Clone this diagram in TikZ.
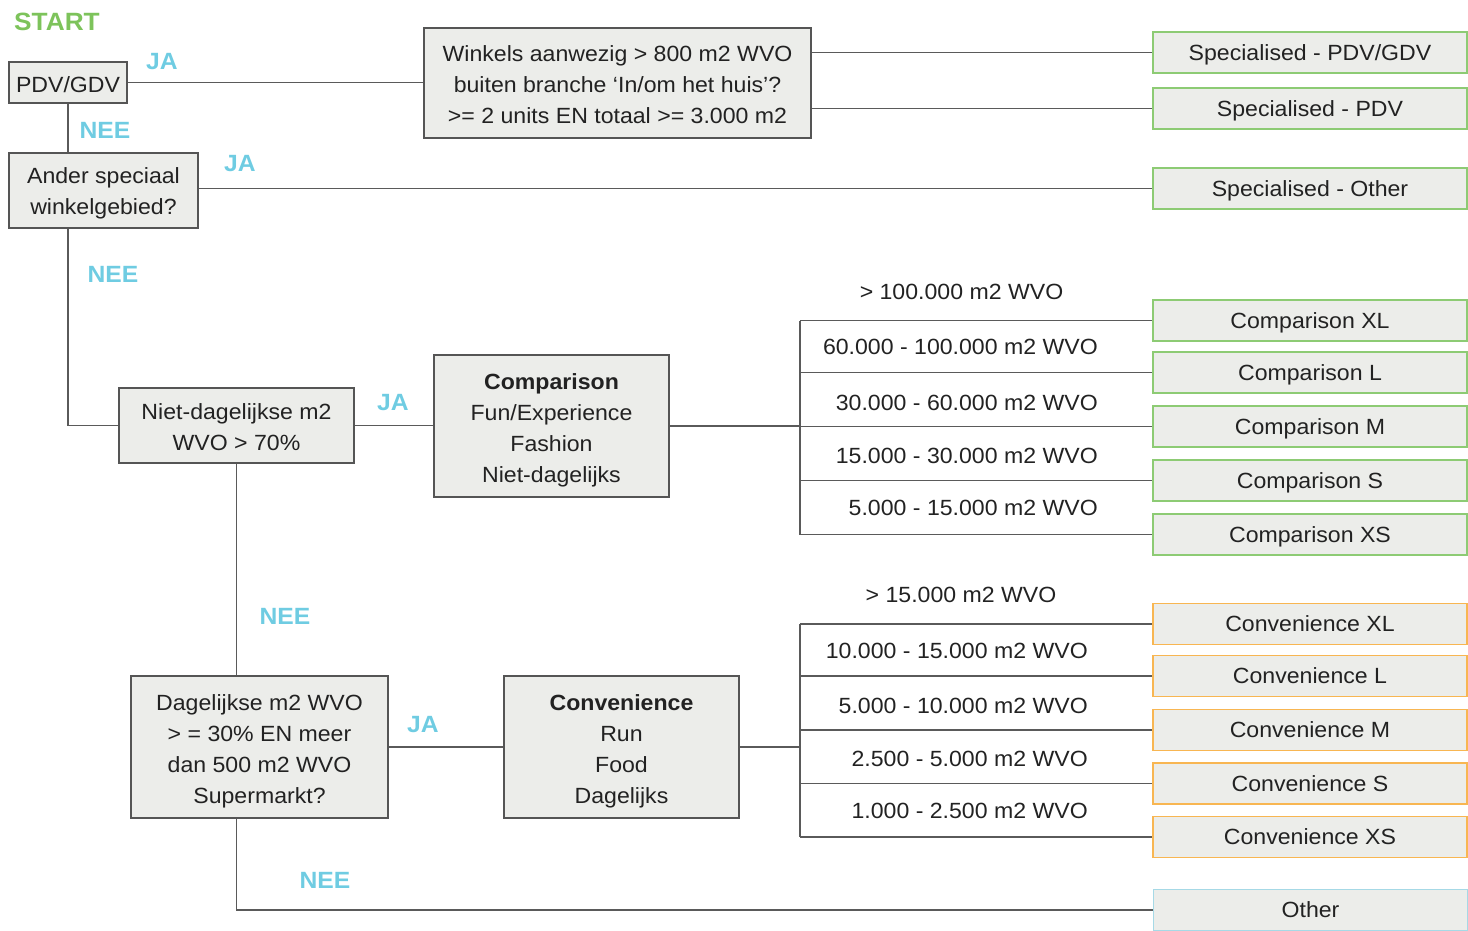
\documentclass[tikz,border=0pt]{standalone}
\usepackage{fontspec}
\setmainfont{Liberation Sans}[FakeStretch=1.05]
\definecolor{boxfill}{HTML}{ECEDEA}
\definecolor{boxline}{HTML}{555555}
\definecolor{wire}{HTML}{5A5A5A}
\definecolor{txtcol}{HTML}{222222}
\definecolor{yesno}{HTML}{6FCCE2}
\definecolor{startgreen}{HTML}{7DC35B}
\definecolor{greenedge}{HTML}{8DCB74}
\definecolor{orangeedge}{HTML}{F8B652}
\definecolor{blueedge}{HTML}{A6D9E6}
\newcommand{\txtfont}{\fontsize{22}{31}\selectfont}
\newcommand{\lblfont}{\bfseries\fontsize{23.5}{28}\selectfont}
\tikzset{
  frame/.style={draw=boxline, fill=boxfill, line width=1.2pt, inner sep=0pt},
  boxtext/.style={align=center, font=\txtfont, text=txtcol, inner sep=0pt, yshift=-2pt},
  tallboxtext/.style={boxtext, yshift=-2pt},
  box/.style={frame, align=center, font=\txtfont, text=txtcol, text depth=0pt},
  outbox/.style={box, minimum width=314pt, minimum height=41pt},
  greenbox/.style={outbox, draw=greenedge},
  orangebox/.style={outbox, draw=orangeedge},
  bluebox/.style={outbox, draw=blueedge},
  answer/.style={font=\lblfont, text=yesno, inner sep=0pt},
  sizelabel/.style={font=\txtfont, text=txtcol, inner sep=0pt, anchor=east, text depth=0pt},
  toplabel/.style={font=\txtfont, text=txtcol, inner sep=0pt, text depth=0pt},
  wireline/.style={draw=wire, line width=1.3pt}
}
\begin{document}
\begin{tikzpicture}[x=1pt,y=-1pt]
\useasboundingbox (0,0) rectangle (1468,931);

% start label
\node[font=\bfseries\fontsize{25}{30}\selectfont, text=startgreen, inner sep=0pt] (start) at (57,22) {START};

% decision boxes: frame first, then its text
\node[frame, minimum width=118pt, minimum height=41pt] (pdv) at (68,82.5) {};
\node[boxtext] (pdvT) at (pdv.center) {PDV/GDV};
\node[frame, minimum width=387pt, minimum height=110pt] (winkels) at (617.5,83) {};
\node[boxtext] (winkelsT) at (winkels.center)
  {Winkels aanwezig > 800 m2 WVO\\buiten branche ‘In/om het huis’?\\>= 2 units EN totaal >= 3.000 m2};
\node[frame, minimum width=189pt, minimum height=75pt] (ander) at (103.5,190.5) {};
\node[boxtext, yshift=-0.5pt] (anderT) at (ander.center) {Ander speciaal\\winkelgebied?};
\node[frame, minimum width=235pt, minimum height=75pt] (niet) at (236.5,425.5) {};
\node[boxtext] (nietT) at (niet.center) {Niet-dagelijkse m2\\WVO > 70\%};
\node[frame, minimum width=235pt, minimum height=142pt] (comp) at (551.5,426) {};
\node[tallboxtext] (compT) at (comp.center)
  {\textbf{Comparison}\\Fun/Experience\\Fashion\\Niet-dagelijks};
\node[frame, minimum width=257pt, minimum height=142pt] (dag) at (259.5,747) {};
\node[tallboxtext] (dagT) at (dag.center)
  {Dagelijkse m2 WVO\\> = 30\% EN meer\\dan 500 m2 WVO\\Supermarkt?};
\node[frame, minimum width=235pt, minimum height=142pt] (conv) at (621.5,747) {};
\node[tallboxtext] (convT) at (conv.center)
  {\textbf{Convenience}\\Run\\Food\\Dagelijks};

% outcome boxes
\node[greenbox] (spA) at (1310,52.5) {Specialised - PDV/GDV};
\node[greenbox] (spB) at (1310,108.5) {Specialised - PDV};
\node[greenbox] (spC) at (1310,188.5) {Specialised - Other};
\node[greenbox] (cXL) at (1310,320.5) {Comparison XL};
\node[greenbox] (cL)  at (1310,372.5) {Comparison L};
\node[greenbox] (cM)  at (1310,426.5) {Comparison M};
\node[greenbox] (cS)  at (1310,480.5) {Comparison S};
\node[greenbox] (cXS) at (1310,534.5) {Comparison XS};
\node[orangebox] (vXL) at (1310,624) {Convenience XL};
\node[orangebox] (vL)  at (1310,676) {Convenience L};
\node[orangebox] (vM)  at (1310,730) {Convenience M};
\node[orangebox] (vS)  at (1310,783.5) {Convenience S};
\node[orangebox] (vXS) at (1310,837) {Convenience XS};
\node[bluebox] (oth) at (1310.5,910) {Other};

% answer labels
\node[answer] (ja1)  at (162,62)  {JA};
\node[answer] (nee1) at (105,130) {NEE};
\node[answer] (ja2)  at (240,164) {JA};
\node[answer] (nee2) at (113,274) {NEE};
\node[answer] (ja3)  at (393,403) {JA};
\node[answer] (nee3) at (285,616) {NEE};
\node[answer] (ja4)  at (423,725) {JA};
\node[answer] (nee4) at (325,880) {NEE};

% size classes
\node[toplabel] (rc0) at (961.5,292) {> 100.000 m2 WVO};
\node[sizelabel] (rc1) at (1098,347) {60.000 - 100.000 m2 WVO};
\node[sizelabel] (rc2) at (1098,403) {30.000 - 60.000 m2 WVO};
\node[sizelabel] (rc3) at (1098,456) {15.000 - 30.000 m2 WVO};
\node[sizelabel] (rc4) at (1098,508) {5.000 - 15.000 m2 WVO};
\node[toplabel] (rv0) at (961,595) {> 15.000 m2 WVO};
\node[sizelabel] (rv1) at (1088,651) {10.000 - 15.000 m2 WVO};
\node[sizelabel] (rv2) at (1088,706) {5.000 - 10.000 m2 WVO};
\node[sizelabel] (rv3) at (1088,759) {2.500 - 5.000 m2 WVO};
\node[sizelabel] (rv4) at (1088,811) {1.000 - 2.500 m2 WVO};

% bracket spines
\coordinate (spine) at (800,0);

% connectors
\draw[wireline] (pdv.east) -- (winkels.west |- pdv.east);
\draw[wireline] (winkels.east |- spA.west) -- (spA.west);
\draw[wireline] (winkels.east |- spB.west) -- (spB.west);
\draw[wireline] (pdv.south) -- (pdv.south |- ander.north);
\draw[wireline] (ander.east |- spC.west) -- (spC.west);
\draw[wireline] (pdv.south |- ander.south) -- (pdv.south |- niet.west) -- (niet.west);
\draw[wireline] (niet.east) -- (comp.west |- niet.east);
\draw[wireline] (comp.east) -- (spine |- comp.east);
\draw[wireline] (spine |- cXL.west) -- (spine |- cXS.west);
\foreach \b in {cXL,cL,cM,cS,cXS}
  \draw[wireline] (spine |- \b.west) -- (\b.west);
\draw[wireline] (niet.south) -- (niet.south |- dag.north);
\draw[wireline] (dag.east |- conv.west) -- (conv.west);
\draw[wireline] (conv.east) -- (spine |- conv.east);
\draw[wireline] (spine |- vXL.west) -- (spine |- vXS.west);
\foreach \b in {vXL,vL,vM,vS,vXS}
  \draw[wireline] (spine |- \b.west) -- (\b.west);
\draw[wireline] (niet.south |- dag.south) -- (niet.south |- oth.west) -- (oth.west);
\end{tikzpicture}
\end{document}
